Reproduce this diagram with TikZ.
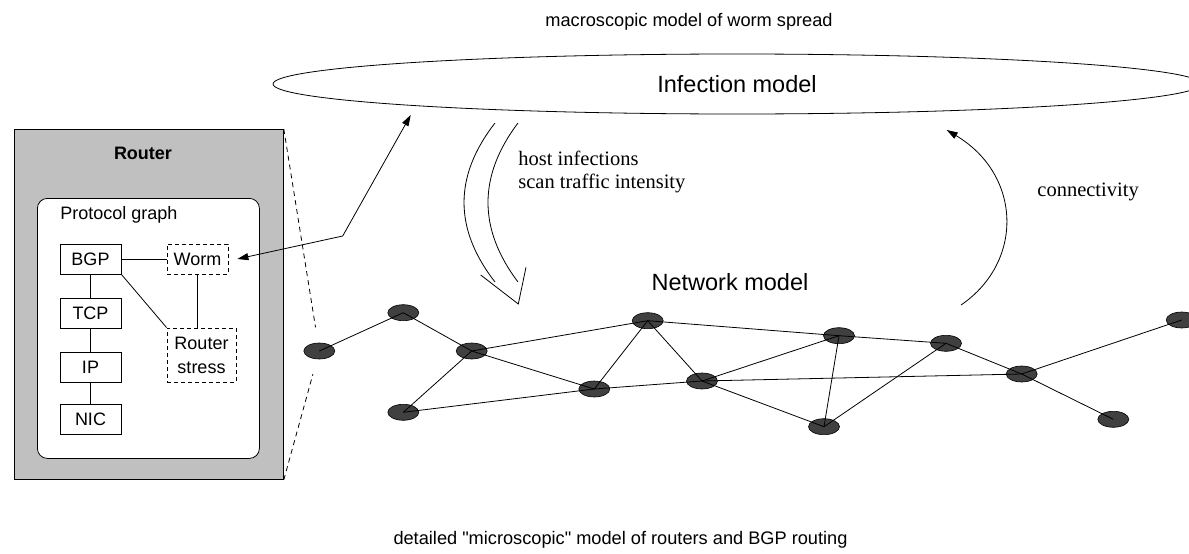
\documentclass[tikz,border=0pt]{standalone}
\usepackage{fontspec}
\setmainfont{Liberation Sans}
\newfontfamily\timesfont{Liberation Serif}
\usetikzlibrary{shapes.geometric,arrows.meta}
\definecolor{boxgray}{RGB}{192,192,192}
\definecolor{hostgray}{RGB}{64,64,64}

\begin{document}
\begin{tikzpicture}[x=1pt,y=-1pt, line width=0.8pt,
  >={Triangle[length=11pt,width=7pt]},
  txt/.style={font=\fontsize{18}{21}\selectfont, inner sep=0pt},
  captxt/.style={font=\fontsize{18.2}{21}\selectfont, inner sep=0pt},
  bigtxt/.style={font=\fontsize{23.5}{27}\selectfont, inner sep=0pt},
  serifnote/.style={font=\timesfont\fontsize{20.5}{23}\selectfont, inner sep=0pt, align=left},
  protobox/.style={draw, minimum width=61pt, minimum height=30pt, inner sep=0pt, font=\fontsize{18}{21}\selectfont},
  modbox/.style={protobox, dash pattern=on 4pt off 3pt},
  host/.style={ellipse, draw, line width=0.6pt, fill=hostgray, minimum width=31pt, minimum height=16pt, inner sep=0pt},
  netlink/.style={draw, line width=0.8pt},
]
\useasboundingbox (0,0) rectangle (1189,554);

% captions
\node[captxt] (macro) at (689,22) {macroscopic model of worm spread};
\node[captxt] (micro) at (620.5,540) {detailed \textquotedbl microscopic\textquotedbl\ model of routers and BGP routing};

% infection model
\node[draw, ellipse, minimum width=928pt, minimum height=60pt, inner sep=0pt, bigtxt] (inf) at (737,84) {Infection model};

% router with its protocol graph
\node[draw, fill=boxgray, minimum width=269pt, minimum height=350pt, anchor=north west, inner sep=0pt] (router) at (14,129) {};
\node[txt, font=\fontsize{18}{21}\selectfont\bfseries] (routertitle) at (143,153) {Router};
\node[draw, fill=white, rounded corners=10pt, minimum width=222pt, minimum height=260pt, anchor=north west, inner sep=0pt] (pg) at (37,198) {};
\node[txt, anchor=west] (pgtitle) at (60,215) {Protocol graph};

\node[protobox] (bgp) at (90.5,259) {BGP};
\node[protobox] (tcp) at (90.5,313) {TCP};
\node[protobox] (ip)  at (90.5,367) {IP};
\node[protobox] (nic) at (90.5,419) {NIC};
\node[modbox] (worm) at (197.5,259) {Worm};
\node[modbox, minimum width=69pt, minimum height=54pt, align=center, font=\fontsize{18}{24}\selectfont] (stress) at (201.5,355) {Router\\stress};

\draw (bgp) -- (tcp) -- (ip) -- (nic);
\draw (bgp.east) -- (worm.west);
\draw (bgp.south east) -- (stress.north west);
\draw (worm.south) -- (worm.south |- stress.north);

% network of routers
\node[host] (n1)  at (319.3,351) {};
\node[host] (n2)  at (403.3,312.7) {};
\node[host] (n3)  at (471.7,351) {};
\node[host] (n4)  at (403.3,412.3) {};
\node[host] (n5)  at (647.7,320.7) {};
\node[host] (n6)  at (594.3,389) {};
\node[host] (n7)  at (702,381) {};
\node[host] (n8)  at (839,335.7) {};
\node[host] (n9)  at (946,343.3) {};
\node[host] (n10) at (824,426.7) {};
\node[host] (n11) at (1021.7,374) {};
\node[host] (n12) at (1181.7,320) {};
\node[host] (n13) at (1113.3,419.3) {};

\foreach \a/\b in {n1/n2, n2/n3, n3/n4, n3/n5, n3/n6, n4/n6, n5/n6, n5/n7, n6/n7,
                   n5/n8, n7/n8, n7/n10, n7/n11, n8/n9, n8/n10, n9/n10, n9/n11,
                   n11/n12, n11/n13}
  \draw[netlink] (\a.center) -- (\b.center);

\node[bigtxt] (netlabel) at (730,282) {Network model};

% zoom lines from the router box to its host
\draw[dash pattern=on 5pt off 4pt, shorten >=24pt] (router.north east) -- (n1.center);
\draw[dash pattern=on 5pt off 4pt, shorten >=24pt] (router.south east) -- (n1.center);

% worm <-> infection model
\coordinate (kink) at (342.7,236);
\coordinate (inftip) at (410.7,115);
\draw[<->] ([xshift=9pt]worm.east) -- (kink) -- (inftip);

% hollow arrow: infection data flowing down
\draw (495,123) .. controls (453.7,176) and (453.7,229) .. (495,282);
\draw (518,123) .. controls (478,176) and (478,229) .. (518,282);
\draw (480.7,275) -- (518.3,304) -- (526,267.3);
\node[serifnote, anchor=west] (flowtxt) at (518,172) {host infections\\scan traffic intensity};

% connectivity arrow
\coordinate (connfrom) at (961,305);
\coordinate (connto) at (946.7,130);
\draw[->] (connfrom) .. controls (1024,262) and (1022,175) .. (connto);
\node[serifnote, anchor=west] (conntxt) at (1037,192) {connectivity};
\end{tikzpicture}
\end{document}
